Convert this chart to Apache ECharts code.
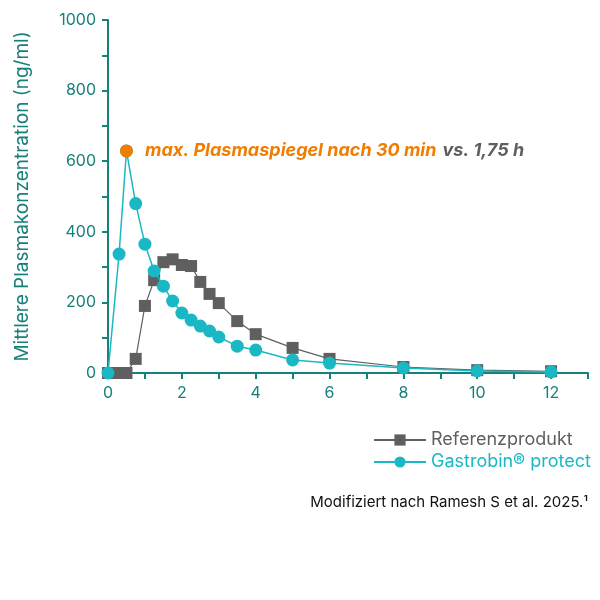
<!DOCTYPE html><html><head><meta charset="utf-8"><script src="https://cdn.jsdelivr.net/npm/echarts@6/dist/echarts.min.js"></script></head><body style="margin:0"><div id="c" style="width:600px;height:600px"></div><script>
const refX=[0,0.25,0.5,0.75,1,1.25,1.5,1.75,2,2.25,2.5,2.75,3,3.5,4,5,6,8,10,12];
const refY=[0,0,0,40,190,263,314,322,306,303,258,224,198,147,110,71,40,17,8,5];
const gasX=[0,0.3,0.5,0.75,1,1.25,1.5,1.75,2,2.25,2.5,2.75,3,3.5,4,5,6,8,10,12];
const gasY=[0,337,629,480,365,289,246,204,170,150,133,119,102,76,65,37,28,14,6,3];
const peak=[[0.5,629]];
const xTicks=[0,2,4,6,8,10,12];
const yTicks=[0,200,400,600,800,1000];
const teal='#17807a',cyan='#1ab8c4',gray='#5f5f5f',orange='#f07d00';
const zip=(a,b)=>a.map((v,i)=>[v,b[i]]);
const ch=echarts.init(document.getElementById('c'));
ch.setOption({
 textStyle:{fontFamily:'Inter'},
 grid:{left:108,top:20,width:480,height:353},
 xAxis:{type:'value',min:0,max:13,interval:1,axisLine:{lineStyle:{color:teal,width:2}},axisTick:{lineStyle:{color:teal,width:2},length:6},splitLine:{show:false},
  axisLabel:{color:teal,fontSize:16,margin:12,formatter:v=>xTicks.includes(v)?v:''}},
 yAxis:{type:'value',min:0,max:1000,interval:100,axisLine:{show:true,lineStyle:{color:teal,width:2}},axisTick:{show:true,lineStyle:{color:teal,width:2},length:6},splitLine:{show:false},
  axisLabel:{color:teal,fontSize:16,margin:12,formatter:v=>yTicks.includes(v)?v:''},
  name:'Mittlere Plasmakonzentration (ng/ml)',nameLocation:'middle',nameGap:76,nameTextStyle:{color:teal,fontSize:19}},
 legend:{orient:'vertical',left:368,top:426,itemGap:4,itemWidth:52,itemHeight:14,textStyle:{fontSize:18},
  data:[{name:'Referenzprodukt',textStyle:{color:gray}},{name:'Gastrobin® protect',textStyle:{color:cyan}}]},
 series:[
  {name:'Referenzprodukt',type:'line',data:zip(refX,refY),symbol:'rect',symbolSize:12,color:gray,lineStyle:{width:1.2,color:gray},itemStyle:{color:gray},z:2},
  {name:'Gastrobin® protect',type:'line',data:zip(gasX,gasY),symbol:'circle',symbolSize:13,color:cyan,lineStyle:{width:1.5,color:cyan},itemStyle:{color:cyan},z:3},
  {name:'peak',type:'scatter',data:peak,symbolSize:13,itemStyle:{color:orange,opacity:1},z:4,
   label:{show:true,position:'right',distance:12,formatter:'{a|max. Plasmaspiegel nach 30 min}{s| }{b|vs. 1,75 h}',
    rich:{a:{color:orange,fontSize:18,fontWeight:'bold',fontStyle:'italic'},s:{fontSize:18,width:6},b:{color:gray,fontSize:18,fontWeight:'bold',fontStyle:'italic'}}}}
 ],
 graphic:[{type:'text',right:12,top:495,style:{text:'Modifiziert nach Ramesh S et al. 2025.¹',fill:'#111',fontSize:15,fontFamily:'Inter'}}]
});
</script></body></html>
